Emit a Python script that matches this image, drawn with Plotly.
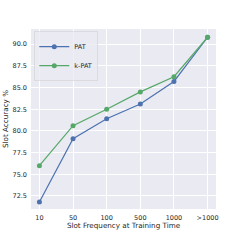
import plotly.graph_objects as go

categories = ["10", "50", "100", "500", "1000", ">1000"]
pat = [71.8, 79.1, 81.4, 83.1, 85.7, 90.8]
kpat = [76.0, 80.6, 82.5, 84.5, 86.25, 90.8]
yticks = [72.5, 75.0, 77.5, 80.0, 82.5, 85.0, 87.5, 90.0]

fig = go.Figure()
fig.add_trace(go.Scatter(x=list(range(len(categories))), y=pat, mode="lines+markers", name="PAT",
                         line=dict(color="#4C72B0", width=1.2), marker=dict(size=5, color="#4C72B0")))
fig.add_trace(go.Scatter(x=list(range(len(categories))), y=kpat, mode="lines+markers", name="k-PAT",
                         line=dict(color="#55A868", width=1.2), marker=dict(size=5, color="#55A868")))

fig.update_layout(
    width=240, height=240,
    margin=dict(l=31, r=24, t=29, b=31),
    paper_bgcolor="white", plot_bgcolor="#EAEAF2",
    font=dict(family="DejaVu Sans", size=6.5, color="#262626"),
    showlegend=True,
    legend=dict(x=0.015, y=0.985, xanchor="left", yanchor="top",
                bgcolor="rgba(234,234,242,0.8)", bordercolor="#CCCCCC", borderwidth=0.5,
                font=dict(size=6.5), itemwidth=30, tracegroupgap=0),
)
fig.update_xaxes(range=[-0.25, 5.25], tickmode="array", tickvals=list(range(len(categories))),
                 ticktext=categories, showgrid=True, gridcolor="white", gridwidth=1,
                 zeroline=False, showline=False, ticks="", automargin=False, ticklabelstandoff=3,
                 title=dict(text="Slot Frequency at Training Time", font=dict(size=7.2), standoff=2))
fig.update_yaxes(range=[71.0, 91.75], tickmode="array", tickvals=yticks,
                 ticktext=[f"{v:.1f}" for v in yticks], showgrid=True, gridcolor="white", gridwidth=1,
                 zeroline=False, showline=False, ticks="", automargin=False, ticklabelstandoff=3,
                 title=dict(text="Slot Accuracy %", font=dict(size=7.2), standoff=2))

fig.write_html("out.html", config={"displayModeBar": False},
               post_script="document.body.style.margin='0';document.body.style.padding='0';")
